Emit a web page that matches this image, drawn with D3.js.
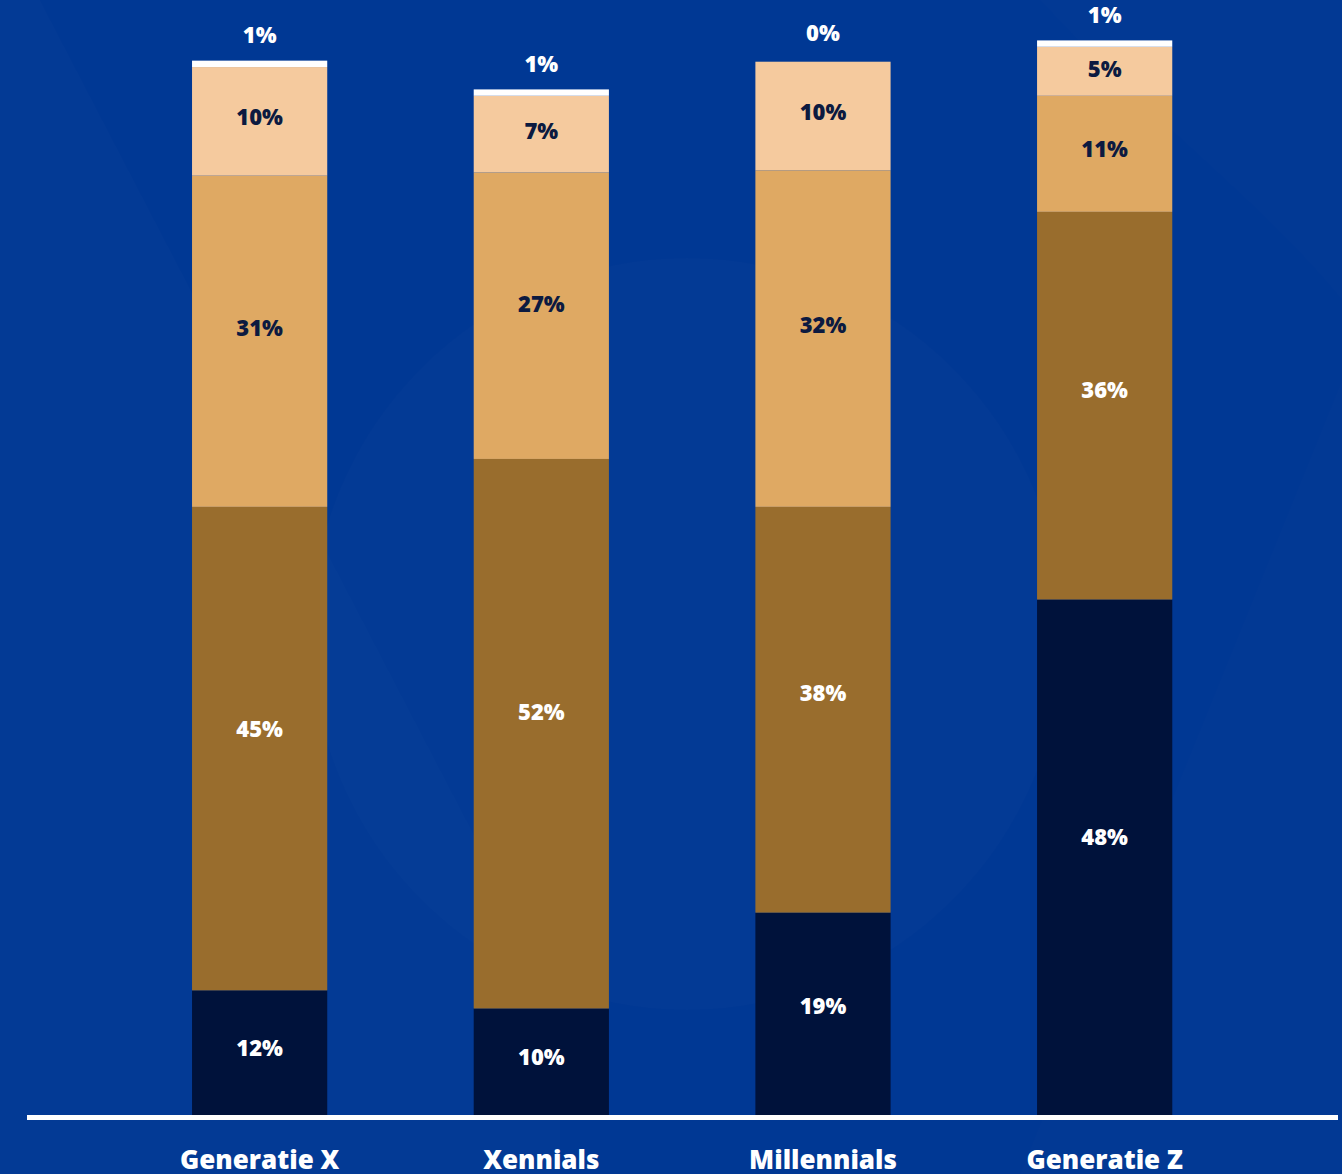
<!DOCTYPE html>
<html lang="nl">
<head>
<meta charset="utf-8">
<title>Generaties</title>
<script src="https://cdn.jsdelivr.net/npm/d3@7/dist/d3.min.js"></script>
<style>
  html, body { margin: 0; padding: 0; background: #003894; overflow: hidden; }
  svg { display: block; }
  text { font-family: "Open Sans", "Noto Sans", sans-serif; font-weight: 800; }
</style>
</head>
<body>
<svg id="chart" width="1342" height="1174"></svg>
<script>
// Generations on the x axis
const categories = ["Generatie X", "Xennials", "Millennials", "Generatie Z"];

// Series, stacked from the bottom up (percent)
const seriesKeys = ["s1", "s2", "s3", "s4", "s5"];
const s1 = [11.7, 10.0, 19.0, 48.4];
const s2 = [45.4, 51.6, 38.1, 36.4];
const s3 = [31.1, 26.9, 31.6, 10.9];
const s4 = [10.2, 7.2, 10.2, 4.6];
const s5 = [0.6, 0.6, 0.0, 0.6];

const seriesValues = [s1, s2, s3, s4, s5];
const colors = ["#00123b", "#996d2d", "#dfa963", "#f5ca9e", "#ffffff"];
const labelColors = ["#ffffff", "#ffffff", "#0c1a40", "#0c1a40", "#ffffff"];

const W = 1342, H = 1174;
const baseY = 1115;
const svg = d3.select("#chart");

// Backdrop with faint decorative shapes
svg.append("rect").attr("width", W).attr("height", H).attr("fill", "#003894");
const deco = svg.append("g").attr("fill", "#ffffff");
deco.append("path")
  .attr("d", "M0,0 L40,0 L560,1000 L560,1174 L0,1174 Z")
  .attr("opacity", 0.01);
deco.append("circle").attr("cx", 687).attr("cy", 634).attr("r", 376).attr("opacity", 0.012);
deco.append("path")
  .attr("d", "M1342,380 L1342,1174 L1020,1174 Z")
  .attr("opacity", 0.008);
deco.append("path")
  .attr("d", "M1040,0 L1342,0 L1342,300 C1260,200 1150,120 1040,0 Z")
  .attr("opacity", 0.006);

// Table rows for d3.stack
const rows = categories.map((c, i) => {
  const r = { cat: c };
  seriesKeys.forEach((k, j) => { r[k] = seriesValues[j][i]; });
  return r;
});
const stacked = d3.stack().keys(seriesKeys)(rows);

const x = d3.scaleBand()
  .domain(categories)
  .range([118.8, 1245.5])
  .paddingInner(0.52)
  .paddingOuter(0.26);

const y = d3.scaleLinear()
  .domain([0, 100])
  .range([baseY, baseY - 1065]);

const fmt = v => d3.format(".0f")(v) + "%";

// Bars
const layers = svg.append("g").selectAll("g")
  .data(stacked).join("g")
  .attr("fill", (d, i) => colors[i]);

layers.selectAll("rect")
  .data(d => d.map(p => ({ p, cat: p.data.cat })))
  .join("rect")
  .attr("x", d => x(d.cat))
  .attr("width", x.bandwidth())
  .attr("y", d => y(d.p[1]))
  .attr("height", d => y(d.p[0]) - y(d.p[1]));

// Baseline
svg.append("rect")
  .attr("x", 27).attr("y", baseY)
  .attr("width", 1311).attr("height", 5)
  .attr("fill", "#ffffff");

// Value labels: a little above the middle of each segment; the thin top segment is labelled above the bar
const labels = svg.append("g").attr("text-anchor", "middle").attr("font-size", 22);
stacked.forEach((layer, i) => {
  const last = i === stacked.length - 1;
  labels.selectAll(null)
    .data(layer)
    .join("text")
    .attr("x", d => x(d.data.cat) + x.bandwidth() / 2)
    .attr("y", d => {
      const mid = y((d[0] + d[1]) / 2);
      const h = y(d[0]) - y(d[1]);
      return last ? mid - 29 : mid - h * 0.04;
    })
    .attr("dy", "0.36em")
    .attr("fill", labelColors[i])
    .text(d => fmt(d[1] - d[0]));
});

// Category axis
const xAxis = svg.append("g")
  .attr("transform", `translate(0,${baseY})`)
  .call(d3.axisBottom(x).tickSize(0).tickPadding(0));
xAxis.select(".domain").remove();
xAxis.selectAll("text")
  .attr("y", 54)
  .attr("dy", 0)
  .attr("fill", "#ffffff")
  .attr("font-size", 26)
  .style("font-family", "'Open Sans', 'Noto Sans', sans-serif")
  .style("font-weight", 800);
</script>
</body>
</html>
